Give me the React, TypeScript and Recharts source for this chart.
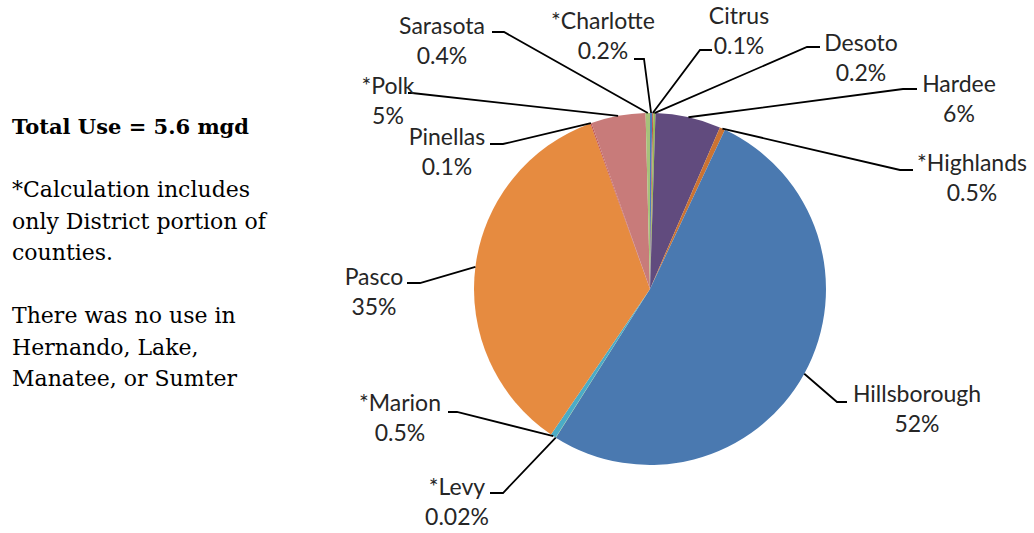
import React from "react"
import { PieChart, Pie, Cell } from "recharts"

// counties clockwise from 12 o'clock, share of total use (%)
const counties = [
  "*Charlotte", "Citrus", "Desoto", "Hardee", "*Highlands", "Hillsborough",
  "*Levy", "*Marion", "Pasco", "Pinellas", "*Polk", "Sarasota",
]
const shares = [0.2, 0.1, 0.2, 6, 0.5, 52, 0.02, 0.5, 35, 0.1, 5, 0.4]
const sliceColors = [
  "#4A7EBB", "#C0504D", "#98B954", "#614B7E", "#CB7332", "#4A79B0",
  "#9BBB59", "#4BACC6", "#E68B40", "#C0504D", "#C87B7A", "#A6C27A",
]

const noteLines = [
  "*Calculation includes",
  "only District portion of",
  "counties.",
  "",
  "There was no use in",
  "Hernando, Lake,",
  "Manatee, or Sumter",
]

// label layout, relative to the pie centre: text centre, elbow, line end at text
const labelSpots: Record<string, { tx: number; ty: number; ex: number; ey: number; lx: number }> = {
  "*Charlotte": { tx: -47, ty: -269, ex: -6, ey: -230, lx: -16 },
  Citrus: { tx: 89, ty: -274, ex: 50, ey: -239, lx: 62 },
  Desoto: { tx: 211, ty: -247, ex: 157, ey: -242, lx: 170 },
  Hardee: { tx: 309, ty: -206, ex: 253, ey: -200, lx: 267 },
  "*Highlands": { tx: 322, ty: -127, ex: 250, ey: -119, lx: 263 },
  Hillsborough: { tx: 267, ty: 104, ex: 187, ey: 113, lx: 197 },
  "*Levy": { tx: -193, ty: 197, ex: -147, ey: 204, lx: -160 },
  "*Marion": { tx: -250, ty: 113, ex: -193, ey: 123, lx: -202 },
  Pasco: { tx: -276, ty: -13, ex: -230, ey: -6, lx: -243 },
  Pinellas: { tx: -203, ty: -153, ex: -147, ey: -145, lx: -160 },
  "*Polk": { tx: -262, ty: -204, ex: -238, ey: -196, lx: -242 },
  Sarasota: { tx: -208, ty: -264, ex: -146, ey: -257, lx: -158 },
}

const data = counties.map((name, i) => ({ name, value: shares[i] }))

const RAD = Math.PI / 180

function SliceLabel(props: any) {
  const { cx, cy, midAngle, outerRadius, name, value } = props
  const spot = labelSpots[name]
  if (!spot) return null
  const sx = cx + outerRadius * Math.cos(-midAngle * RAD)
  const sy = cy + outerRadius * Math.sin(-midAngle * RAD)
  const pts = `${sx},${sy} ${cx + spot.ex},${cy + spot.ey} ${cx + spot.lx},${cy + spot.ey}`
  return (
    <g>
      <polyline points={pts} fill="none" stroke="#000" strokeWidth={1.8} />
      <text
        x={cx + spot.tx}
        y={cy + spot.ty}
        textAnchor="middle"
        dominantBaseline="central"
        fill="#262626"
        fontSize={23}
        fontFamily="Lato, sans-serif"
      >
        {name}
      </text>
      <text
        x={cx + spot.tx}
        y={cy + spot.ty + 30}
        textAnchor="middle"
        dominantBaseline="central"
        fill="#262626"
        fontSize={23}
        fontFamily="Lato, sans-serif"
      >
        {`${value}%`}
      </text>
    </g>
  )
}

export default function App() {
  return (
    <div style={{ position: "absolute", left: 0, top: 0, width: 1034, height: 533, background: "#fff" }}>
      <div
        style={{
          position: "absolute",
          left: 12,
          top: 111,
          fontFamily: "'DejaVu Serif', serif",
          fontSize: 22,
          lineHeight: "31.5px",
          color: "#000",
          whiteSpace: "pre",
        }}
      >
        <div style={{ fontWeight: 700, fontSize: 21 }}>Total Use = 5.6 mgd</div>
        <div>&nbsp;</div>
        {noteLines.map((t, i) => (
          <div key={i}>{t || "\u00a0"}</div>
        ))}
      </div>
      <PieChart
        width={1034}
        height={533}
        margin={{ top: 0, right: 0, bottom: 0, left: 0 }}
        style={{ position: "absolute", left: 0, top: 0 }}
      >
        <Pie
          data={data}
          dataKey="value"
          nameKey="name"
          cx={650}
          cy={289}
          outerRadius={176}
          startAngle={90}
          endAngle={-270}
          stroke="none"
          label={SliceLabel}
          labelLine={false}
          isAnimationActive={false}
        >
          {data.map((d, i) => (
            <Cell key={d.name} fill={sliceColors[i]} />
          ))}
        </Pie>
      </PieChart>
    </div>
  )
}
